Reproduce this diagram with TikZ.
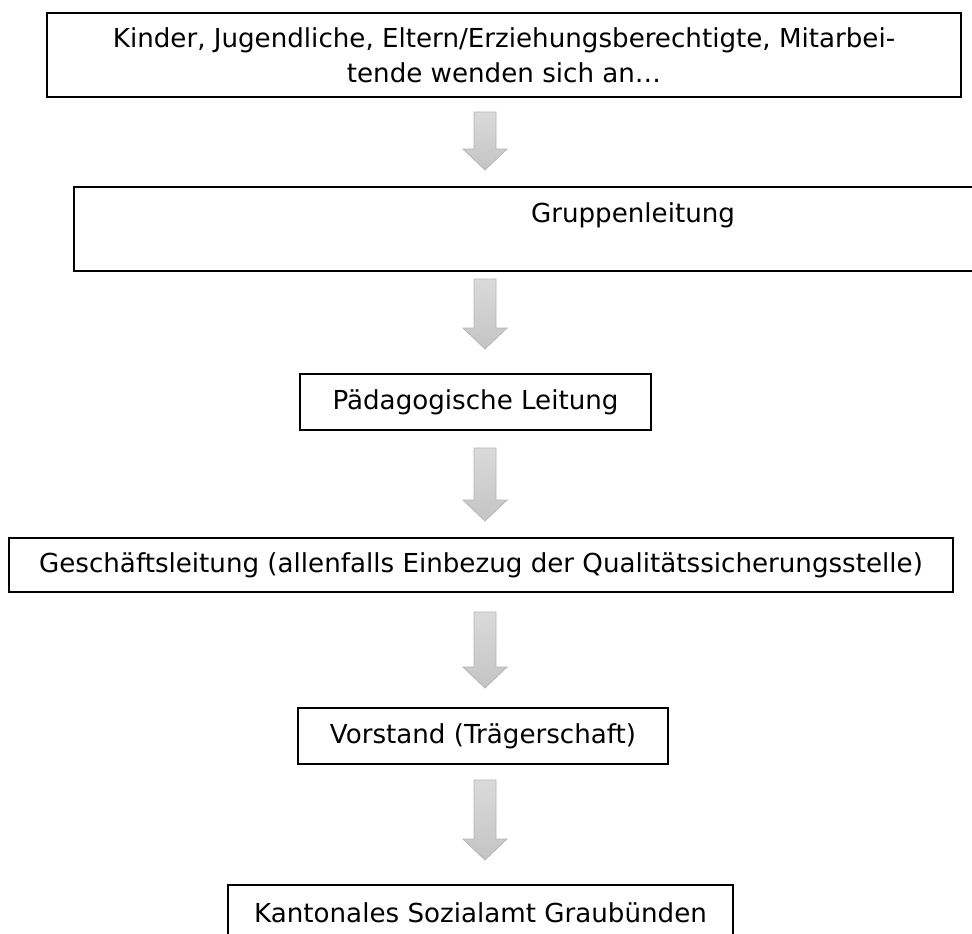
\documentclass[tikz,border=0pt]{standalone}
\usepackage{fontspec}
\setmainfont{DejaVu Sans}
\tikzset{
  box/.style={draw=black, line width=1.3pt, rectangle, inner sep=0pt, align=center,
    font=\fontsize{19.6}{26}\selectfont},
  boxsize/.style 2 args={minimum width=#1*0.75pt, minimum height=#2*0.75pt},
  blkarrow/.style={draw={rgb,255:red,182;green,182;blue,182}, line width=0.6pt,
    top color={rgb,255:red,218;green,218;blue,218},
    bottom color={rgb,255:red,196;green,196;blue,196}}
}
\begin{document}
\begin{tikzpicture}[x=0.75pt,y=-0.75pt]
\clip (0,0) rectangle (972,933);
\fill[white] (0,0) rectangle (972,933);

% Boxes
\node[box, boxsize={914}{84}] (kinder) at (504,55)
  {Kinder, Jugendliche, Eltern/Erziehungsberechtigte, Mitarbei-\\tende wenden sich an\dots};
\node[box, boxsize={1118}{84}] (gruppe) at (633,229)
  {Gruppenleitung\\[-9.5pt]\strut};
\node[box, boxsize={351}{56}] (paed) at (475.5,402)
  {Pädagogische Leitung};
\node[box, boxsize={944}{54}] (gl) at (481,565)
  {Geschäftsleitung (allenfalls Einbezug der Qualitätssicherungsstelle)};
\node[box, boxsize={370}{56}] (vorstand) at (483,736)
  {Vorstand (Trägerschaft)};
\node[box, boxsize={505}{56}] (kanton) at (480.5,913)
  {Kantonales Sozialamt Graubünden};

% Arrows
\foreach \top/\tip in {112/170, 279/349, 448/521, 612/688, 780/860}
  \draw[blkarrow] (474,\top) -- (496,\top) -- (496,\tip-21) -- (507,\tip-21)
    -- (485,\tip) -- (463,\tip-21) -- (474,\tip-21) -- cycle;
\end{tikzpicture}
\end{document}
